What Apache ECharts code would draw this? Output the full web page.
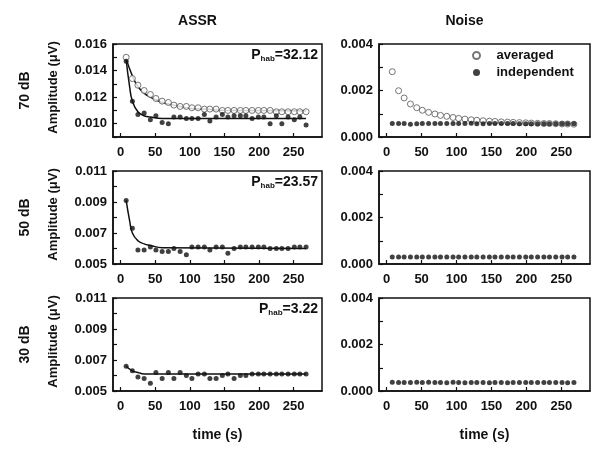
<!DOCTYPE html>
<html><head><meta charset="utf-8">
<script src="https://cdn.jsdelivr.net/npm/echarts@6/dist/echarts.min.js"></script>
<style>html,body{margin:0;padding:0;background:#fff}#c{width:600px;height:449px}</style>
</head><body><div id="c"></div>
<script>
var times = [8,17,25,34,43,51,60,69,77,86,95,103,112,121,129,138,147,155,164,173,181,190,199,207,216,225,233,242,251,259,268];
var xTicks = [0,50,100,150,200,250];

var assr70Avg = [0.0150,0.0134,0.0129,0.0125,0.0122,0.0119,0.0117,0.0116,0.0114,0.0113,0.0113,0.0112,0.0112,0.0111,0.0111,0.0111,0.0110,0.0110,0.0110,0.0110,0.0110,0.0110,0.0110,0.0110,0.0110,0.0109,0.0109,0.0109,0.0109,0.0109,0.0109];
var assr70AvgFit = [[8,0.0149],[17,0.0136],[25,0.0128],[34,0.0123],[43,0.0120],[51,0.0118],[60,0.0116],[77,0.0114],[95,0.0112],[121,0.0111],[155,0.0110],[199,0.0110],[268,0.01095]];
var assr70Ind = [0.0147,0.0117,0.0107,0.0108,0.0103,0.0106,0.0101,0.0100,0.0105,0.0105,0.0104,0.0104,0.0104,0.0107,0.0102,0.0105,0.0107,0.0105,0.0106,0.0106,0.0106,0.0104,0.0105,0.0105,0.0100,0.0106,0.0100,0.0105,0.0103,0.0105,0.0099];
var assr70IndFit = [[8,0.0148],[13,0.0128],[17,0.0117],[25,0.0109],[34,0.0106],[43,0.0105],[60,0.0104],[268,0.0104]];

var assr50Ind = [0.0091,0.0073,0.0059,0.0059,0.0061,0.0059,0.0058,0.0058,0.0060,0.0058,0.0056,0.0061,0.0061,0.0061,0.0059,0.0061,0.0061,0.0057,0.0060,0.0061,0.0061,0.0061,0.0061,0.0061,0.0060,0.0060,0.0060,0.0060,0.0061,0.0061,0.0061];
var assr50IndFit = [[8,0.0091],[13,0.0078],[17,0.0070],[25,0.0065],[34,0.0063],[43,0.0062],[60,0.00605],[268,0.0060]];

var assr30Ind = [0.0066,0.0063,0.0059,0.0058,0.0055,0.0062,0.0058,0.0062,0.0058,0.0062,0.0060,0.0058,0.0061,0.0061,0.0058,0.0058,0.0060,0.0061,0.0058,0.0060,0.0060,0.0061,0.0061,0.0061,0.0061,0.0061,0.0061,0.0061,0.0061,0.0061,0.0061];
var assr30IndFit = [[8,0.0066],[17,0.0063],[25,0.0062],[34,0.0061],[268,0.0061]];

var noise70Avg = [0.00281,0.00199,0.00168,0.00142,0.00126,0.00115,0.00106,0.00099,0.00093,0.00089,0.00084,0.00080,0.00077,0.00074,0.00072,0.00070,0.00068,0.00067,0.00065,0.00064,0.00063,0.00062,0.00061,0.00060,0.00059,0.00058,0.00058,0.00057,0.00056,0.00056,0.00055];
var noise70Ind = [0.00058,0.00058,0.00058,0.00055,0.00057,0.00058,0.00058,0.00058,0.00058,0.00058,0.00058,0.00058,0.00058,0.00059,0.00057,0.00057,0.00058,0.00058,0.00058,0.00058,0.00058,0.00057,0.00057,0.00057,0.00057,0.00057,0.00057,0.00057,0.00057,0.00057,0.00057];
var noise50Ind = [0.00030,0.00030,0.00030,0.00030,0.00030,0.00030,0.00030,0.00030,0.00030,0.00030,0.00030,0.00030,0.00030,0.00030,0.00030,0.00030,0.00030,0.00030,0.00030,0.00030,0.00030,0.00030,0.00030,0.00030,0.00030,0.00030,0.00030,0.00030,0.00030,0.00030,0.00030];
var noise30Ind = [0.00038,0.00037,0.00037,0.00037,0.00038,0.00037,0.00038,0.00037,0.00037,0.00036,0.00038,0.00037,0.00036,0.00037,0.00037,0.00037,0.00036,0.00037,0.00037,0.00036,0.00037,0.00037,0.00037,0.00037,0.00037,0.00037,0.00037,0.00037,0.00037,0.00036,0.00037];

var rowLabels = ['70 dB','50 dB','30 dB'];
var pHab = ['32.12','23.57','3.22'];
var colTitles = ['ASSR','Noise'];
var yAxisTitle = 'Amplitude (\u03bcV)';
var xAxisTitle = 'time (s)';
var legendNames = ['averaged','independent'];

function pair(vals){ return vals.map(function(v,i){ return [times[i], v]; }); }

var FONT = 'Liberation Sans, Arial, sans-serif';
var INK = '#111';
var rowsTop = [44,171,298], rowH = 93;
var colLeft = [113,379], colW = [209,211];
var yRanges = [[[0.009,0.016,0],[0,0.004,0]],[[0.005,0.011,1],[0,0.004,0]],[[0.005,0.011,1],[0,0.004,0]]];

var grids=[], xAxes=[], yAxes=[];
for (var r=0;r<3;r++){ for (var c=0;c<2;c++){
  var idx=r*2+c;
  grids.push({left:colLeft[c], top:rowsTop[r], width:colW[c], height:rowH, show:true, borderColor:INK, borderWidth:1.5, backgroundColor:'transparent'});
  xAxes.push({type:'value', gridIndex:idx, min:-11, max:291,
    axisLine:{show:true, onZero:false, lineStyle:{color:INK,width:1.5}},
    axisTick:{show:true, inside:true, length:4, customValues:xTicks, lineStyle:{color:INK,width:1.2}},
    axisLabel:{show:true, customValues:xTicks, margin:9, color:INK, fontFamily:FONT, fontWeight:'bold', fontSize:13},
    splitLine:{show:false}});
  var yr=yRanges[r][c];
  (function(par){
  yAxes.push({type:'value', gridIndex:idx, min:yr[0], max:yr[1], interval:0.001,
    axisLine:{show:true, onZero:false, lineStyle:{color:INK,width:1.5}},
    axisTick:{show:true, inside:true, length:4, lineStyle:{color:INK,width:1.2}},
    axisLabel:{margin:6, color:INK, fontFamily:FONT, fontWeight:'bold', fontSize:13,
      formatter:function(v){ var k=Math.round(v*1000); return (k%2===par)? v.toFixed(3):''; }},
    splitLine:{show:false}});
  })(yr[2]);
}}

function scat(name, idx, vals, open){
  return {name:name, type:'scatter', xAxisIndex:idx, yAxisIndex:idx, data:pair(vals),
    symbol:'circle', symbolSize: open?6:5,
    itemStyle: open?{color:'#fff', borderColor:'#555', borderWidth:1}:{color:INK},
    z:5, silent:true};
}
function fit(idx, data){
  return {type:'line', xAxisIndex:idx, yAxisIndex:idx, data:data, smooth:0.5, showSymbol:false, symbol:'none',
    lineStyle:{color:INK,width:1.5}, z:3, silent:true};
}

var series = [
  fit(0, assr70AvgFit), fit(0, assr70IndFit),
  scat('averaged',0,assr70Avg,true), scat('independent',0,assr70Ind,false),
  scat('averaged',1,noise70Avg,true), scat('independent',1,noise70Ind,false),
  fit(2, assr50IndFit), scat('independent',2,assr50Ind,false),
  scat('independent',3,noise50Ind,false),
  fit(4, assr30IndFit), scat('independent',4,assr30Ind,false),
  scat('independent',5,noise30Ind,false)
];

var graphics = [];
colTitles.forEach(function(t,c){
  graphics.push({type:'text', x:colLeft[c]+colW[c]/2-20, y:21, style:{text:t, align:'center', verticalAlign:'middle', font:'bold 14px '+FONT, fill:INK}});
});
rowLabels.forEach(function(t,r){
  var cy = rowsTop[r]+rowH/2;
  graphics.push({type:'text', x:25, y:cy, rotation:Math.PI/2, style:{text:t, align:'center', verticalAlign:'middle', font:'bold 14px '+FONT, fill:INK}});
  graphics.push({type:'text', x:53, y:cy-3, rotation:Math.PI/2, style:{text:yAxisTitle, align:'center', verticalAlign:'middle', font:'bold 13px '+FONT, fill:INK}});
  graphics.push({type:'text', x:318, y:rowsTop[r]+11, style:{rich:{p:{font:'bold 14px '+FONT, fill:INK}, s:{font:'bold 8px '+FONT, fill:INK, padding:[7,0,0,0]}}, text:'{p|P}{s|hab}{p|='+pHab[r]+'}', align:'right', verticalAlign:'middle'}});
});
[0,1].forEach(function(c){
  graphics.push({type:'text', x:colLeft[c]+colW[c]/2, y:435, style:{text:xAxisTitle, align:'center', verticalAlign:'middle', font:'bold 14px '+FONT, fill:INK}});
});

var chart = echarts.init(document.getElementById('c'), null, {renderer:'canvas'});
chart.setOption({
  animation:false, backgroundColor:'#fff',
  grid:grids, xAxis:xAxes, yAxis:yAxes, series:series,
  legend:{data:[{name:'averaged'},{name:'independent'}], orient:'vertical', left:472, top:49, itemWidth:30, itemHeight:7, itemGap:4,
    textStyle:{fontFamily:FONT, fontWeight:'bold', fontSize:13, color:INK}, padding:0, selectedMode:false},
  graphic:graphics
});
</script></body></html>
